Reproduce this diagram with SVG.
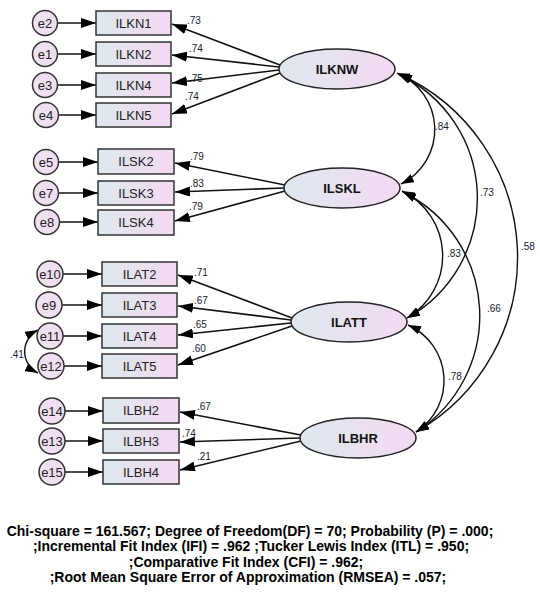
<svg xmlns="http://www.w3.org/2000/svg" width="540" height="596" viewBox="0 0 540 596">
<defs>
<linearGradient id="g" x1="0" y1="0" x2="1" y2="0">
<stop offset="0" stop-color="#dde9ee"/>
<stop offset="1" stop-color="#f4d9f3"/>
</linearGradient>
<linearGradient id="gc" x1="0" y1="0" x2="1" y2="0">
<stop offset="0" stop-color="#ece3f2"/>
<stop offset="1" stop-color="#f3dcf2"/>
</linearGradient>
<marker id="ar" viewBox="0 0 15 10" markerWidth="15" markerHeight="10" refX="15" refY="5" orient="auto-start-reverse" markerUnits="userSpaceOnUse">
<path d="M0,0 L15,5 L0,10 z" fill="#000"/>
</marker>
<marker id="ac" viewBox="0 0 13 9" markerWidth="13" markerHeight="9" refX="13" refY="4.5" orient="auto-start-reverse" markerUnits="userSpaceOnUse">
<path d="M0,0 L13,4.5 L0,9 z" fill="#000"/>
</marker>
</defs>
<style>
.r{fill:url(#g);stroke:#333;stroke-width:1.5}
.c{fill:url(#gc);stroke:#333;stroke-width:1.5}
.l{fill:url(#g);stroke:#222;stroke-width:1.5}
.t{font-family:"Liberation Sans",Arial,sans-serif;font-size:13px;fill:#222;text-anchor:middle}
.tb{font-family:"Liberation Sans",Arial,sans-serif;font-size:13px;font-weight:bold;fill:#111;text-anchor:middle}
.n{font-family:"Liberation Sans",Arial,sans-serif;font-size:10px;fill:#1a1a33}
.ft{font-family:"Liberation Sans",Arial,sans-serif;font-size:14px;font-weight:bold;fill:#000;text-anchor:middle}
.a{stroke:#111;stroke-width:1.6;fill:none;marker-end:url(#ar)}
.cv{stroke:#111;stroke-width:1.4;fill:none;marker-start:url(#ac);marker-end:url(#ac)}
</style>

<g id="connectors">
<!-- error arrows -->
<line class="a" x1="57.5" y1="23" x2="96" y2="23"/>
<line class="a" x1="57.5" y1="54" x2="96" y2="54"/>
<line class="a" x1="57.5" y1="85" x2="96" y2="85"/>
<line class="a" x1="58.5" y1="115" x2="96" y2="115"/>
<line class="a" x1="58.5" y1="162" x2="98" y2="162"/>
<line class="a" x1="58.5" y1="193" x2="98" y2="193"/>
<line class="a" x1="59.5" y1="222" x2="98" y2="222"/>
<line class="a" x1="63" y1="274" x2="102" y2="274"/>
<line class="a" x1="62" y1="305" x2="102" y2="305"/>
<line class="a" x1="63" y1="336" x2="102" y2="336"/>
<line class="a" x1="64" y1="366" x2="102" y2="366"/>
<line class="a" x1="65" y1="411" x2="103" y2="411"/>
<line class="a" x1="65" y1="441" x2="103" y2="441"/>
<line class="a" x1="65" y1="472" x2="103" y2="472"/>
<!-- loadings -->
<line class="a" x1="280" y1="65" x2="172" y2="24"/>
<line class="a" x1="279" y1="67" x2="172" y2="55"/>
<line class="a" x1="279" y1="70" x2="172" y2="83"/>
<line class="a" x1="280" y1="73" x2="172" y2="114"/>
<line class="a" x1="285" y1="185" x2="175" y2="163"/>
<line class="a" x1="284" y1="188" x2="175" y2="192"/>
<line class="a" x1="285" y1="191" x2="175" y2="221"/>
<line class="a" x1="292" y1="318" x2="178" y2="275"/>
<line class="a" x1="291" y1="320" x2="178" y2="306"/>
<line class="a" x1="291" y1="323" x2="178" y2="335"/>
<line class="a" x1="292" y1="326" x2="178" y2="365"/>
<line class="a" x1="301" y1="435" x2="180" y2="412"/>
<line class="a" x1="300" y1="438" x2="180" y2="442"/>
<line class="a" x1="301" y1="441" x2="180" y2="470"/>
<!-- covariances -->
<path class="cv" d="M397,73 A61,61 0 0 1 401,184"/>
<path class="cv" d="M398,74 A137,137 0 0 1 407,318"/>
<path class="cv" d="M399,74 A201,201 0 0 1 416,432"/>
<path class="cv" d="M402,191 A72,72 0 0 1 407,318"/>
<path class="cv" d="M403,192 A138,138 0 0 1 416,432"/>
<path class="cv" d="M408,325 A61,61 0 0 1 416,432"/>
<path class="cv" d="M38,330 A24,24 0 0 0 38,373"/>
<!-- labels -->
<text class="n" x="187" y="24">.73</text>
<text class="n" x="189" y="52">.74</text>
<text class="n" x="189" y="82">.75</text>
<text class="n" x="185" y="100">.74</text>
<text class="n" x="190" y="160">.79</text>
<text class="n" x="190" y="187">.83</text>
<text class="n" x="189" y="210">.79</text>
<text class="n" x="194" y="276">.71</text>
<text class="n" x="194" y="304">.67</text>
<text class="n" x="193" y="328">.65</text>
<text class="n" x="192" y="352">.60</text>
<text class="n" x="197" y="410">.67</text>
<text class="n" x="182" y="437">.74</text>
<text class="n" x="197" y="460">.21</text>
<text class="n" x="435" y="130">.84</text>
<text class="n" x="480" y="196">.73</text>
<text class="n" x="521" y="250">.58</text>
<text class="n" x="447" y="257">.83</text>
<text class="n" x="487" y="312">.66</text>
<text class="n" x="448" y="380">.78</text>
<text class="n" x="10" y="358">.41</text>
</g>

<g id="e2"><circle class="c" cx="45" cy="23" r="12.5"/><text class="t" x="45" y="27.5">e2</text></g>
<g id="e1"><circle class="c" cx="45" cy="54" r="12.5"/><text class="t" x="45" y="58.5">e1</text></g>
<g id="e3"><circle class="c" cx="45" cy="85" r="12.5"/><text class="t" x="45" y="89.5">e3</text></g>
<g id="e4"><circle class="c" cx="46" cy="115" r="12.5"/><text class="t" x="46" y="119.5">e4</text></g>
<g id="e5"><circle class="c" cx="46" cy="162" r="12.5"/><text class="t" x="46" y="166.5">e5</text></g>
<g id="e7"><circle class="c" cx="46" cy="193" r="12.5"/><text class="t" x="46" y="197.5">e7</text></g>
<g id="e8"><circle class="c" cx="47" cy="222" r="12.5"/><text class="t" x="47" y="226.5">e8</text></g>
<g id="e10"><circle class="c" cx="50" cy="274" r="13"/><text class="t" x="50" y="278.5">e10</text></g>
<g id="e9"><circle class="c" cx="49" cy="305" r="13"/><text class="t" x="49" y="309.5">e9</text></g>
<g id="e11"><circle class="c" cx="50" cy="336" r="13"/><text class="t" x="50" y="340.5">e11</text></g>
<g id="e12"><circle class="c" cx="51" cy="366" r="13"/><text class="t" x="51" y="370.5">e12</text></g>
<g id="e14"><circle class="c" cx="52" cy="411" r="13"/><text class="t" x="52" y="415.5">e14</text></g>
<g id="e13"><circle class="c" cx="52" cy="441" r="13"/><text class="t" x="52" y="445.5">e13</text></g>
<g id="e15"><circle class="c" cx="52" cy="472" r="13"/><text class="t" x="52" y="476.5">e15</text></g>

<g id="ILKN1"><rect class="r" x="96" y="11" width="75" height="24"/><text class="t" x="133.5" y="27.5">ILKN1</text></g>
<g id="ILKN2"><rect class="r" x="96" y="42" width="75" height="24"/><text class="t" x="133.5" y="58.5">ILKN2</text></g>
<g id="ILKN4"><rect class="r" x="96" y="73" width="75" height="24"/><text class="t" x="133.5" y="89.5">ILKN4</text></g>
<g id="ILKN5"><rect class="r" x="96" y="103" width="75" height="24"/><text class="t" x="133.5" y="119.5">ILKN5</text></g>
<g id="ILSK2"><rect class="r" x="98" y="149" width="76" height="25"/><text class="t" x="136" y="166">ILSK2</text></g>
<g id="ILSK3"><rect class="r" x="98" y="181" width="76" height="24"/><text class="t" x="136" y="197.5">ILSK3</text></g>
<g id="ILSK4"><rect class="r" x="98" y="210" width="76" height="25"/><text class="t" x="136" y="227">ILSK4</text></g>
<g id="ILAT2"><rect class="r" x="102" y="262" width="75" height="24"/><text class="t" x="139.5" y="278.5">ILAT2</text></g>
<g id="ILAT3"><rect class="r" x="102" y="293" width="75" height="24"/><text class="t" x="139.5" y="309.5">ILAT3</text></g>
<g id="ILAT4"><rect class="r" x="102" y="324" width="75" height="24"/><text class="t" x="139.5" y="340.5">ILAT4</text></g>
<g id="ILAT5"><rect class="r" x="102" y="354" width="75" height="24"/><text class="t" x="139.5" y="370.5">ILAT5</text></g>
<g id="ILBH2"><rect class="r" x="103" y="398" width="76" height="25"/><text class="t" x="141" y="415">ILBH2</text></g>
<g id="ILBH3"><rect class="r" x="103" y="429" width="76" height="24"/><text class="t" x="141" y="445.5">ILBH3</text></g>
<g id="ILBH4"><rect class="r" x="103" y="460" width="76" height="24"/><text class="t" x="141" y="476.5">ILBH4</text></g>

<g id="ILKNW"><ellipse class="l" cx="337" cy="69" rx="58" ry="20"/><text class="tb" x="337" y="74">ILKNW</text></g>
<g id="ILSKL"><ellipse class="l" cx="342" cy="188" rx="58" ry="20"/><text class="tb" x="342" y="193">ILSKL</text></g>
<g id="ILATT"><ellipse class="l" cx="349" cy="322" rx="58" ry="20"/><text class="tb" x="349" y="327">ILATT</text></g>
<g id="ILBHR"><ellipse class="l" cx="358" cy="438" rx="58" ry="20"/><text class="tb" x="358" y="443">ILBHR</text></g>

<g id="fit">
<text class="ft" x="250" y="536">Chi-square = 161.567; Degree of Freedom(DF) = 70; Probability (P) = .000;</text>
<text class="ft" x="251" y="551">;Incremental Fit Index (IFI) = .962 ;Tucker Lewis Index (ITL) = .950;</text>
<text class="ft" x="246" y="567">;Comparative Fit Index (CFI) = .962;</text>
<text class="ft" x="248" y="582">;Root Mean Square Error of Approximation (RMSEA) = .057;</text>
</g>
</svg>
